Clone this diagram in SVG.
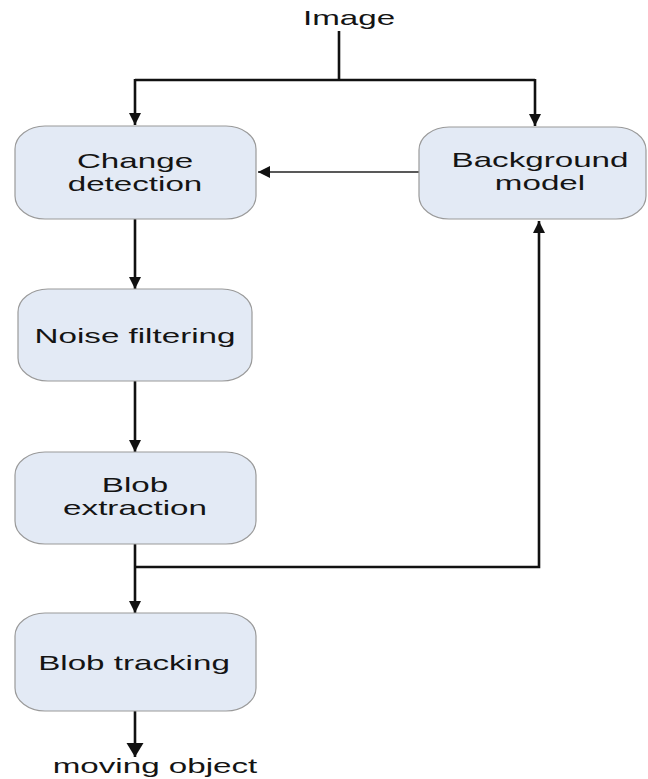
<svg xmlns="http://www.w3.org/2000/svg" width="648" height="779" viewBox="0 0 648 779">
<style>
.box{fill:#e3eaf5;stroke:#9a9a9a;stroke-width:1.2}
.lbl{font-family:"Liberation Sans",Arial,sans-serif;font-size:21px;fill:#141414;text-anchor:middle}
.ln{fill:none;stroke:#111;stroke-width:2.6}
.thin{fill:none;stroke:#222;stroke-width:1.6}
</style>
<defs>
<marker id="ah" markerUnits="userSpaceOnUse" markerWidth="14" markerHeight="12" refX="12" refY="6" orient="auto">
<path d="M0,0 L12,6 L0,12 Z" fill="#111"/>
</marker>
<marker id="ahL" markerUnits="userSpaceOnUse" markerWidth="15" markerHeight="18" refX="14" refY="8.5" orient="auto">
<path d="M0,0 L14,8.5 L0,17 Z" fill="#111"/>
</marker>
</defs>
<rect width="648" height="779" fill="#fff"/>
<g id="connectors">
<path class="ln" d="M339,31 V80"/>
<path class="ln" d="M135,80 H535"/>
<path class="ln" d="M135,79 V125" marker-end="url(#ah)"/>
<path class="ln" d="M535,79 V126" marker-end="url(#ah)"/>
<path class="thin" d="M419,172 H258" marker-end="url(#ah)"/>
<path class="ln" d="M135,219 V289" marker-end="url(#ah)"/>
<path class="ln" d="M135,381 V452" marker-end="url(#ah)"/>
<path class="ln" d="M135,544 V613" marker-end="url(#ah)"/>
<path class="ln" d="M135,567 H539 V221" marker-end="url(#ah)"/>
<path class="ln" d="M135,711 V757" marker-end="url(#ahL)"/>
</g>
<g id="image-label">
<text class="lbl" transform="translate(349 25) scale(1.58 1)">Image</text>
</g>
<g id="change-detection">
<rect class="box" x="15" y="126" width="241" height="93" rx="30" ry="23"/>
<text class="lbl" transform="translate(135 168) scale(1.58 1)">Change</text>
<text class="lbl" transform="translate(135 191) scale(1.58 1)">detection</text>
</g>
<g id="background-model">
<rect class="box" x="419" y="127" width="227" height="92" rx="30" ry="23"/>
<text class="lbl" transform="translate(540 167) scale(1.58 1)">Background</text>
<text class="lbl" transform="translate(540 190) scale(1.58 1)">model</text>
</g>
<g id="noise-filtering">
<rect class="box" x="18" y="289" width="234" height="92" rx="30" ry="23"/>
<text class="lbl" transform="translate(135 343) scale(1.58 1)">Noise filtering</text>
</g>
<g id="blob-extraction">
<rect class="box" x="15" y="452" width="241" height="92" rx="30" ry="23"/>
<text class="lbl" transform="translate(135 492) scale(1.58 1)">Blob</text>
<text class="lbl" transform="translate(135 515) scale(1.58 1)">extraction</text>
</g>
<g id="blob-tracking">
<rect class="box" x="15" y="613" width="241" height="98" rx="30" ry="23"/>
<text class="lbl" transform="translate(134 670) scale(1.58 1)">Blob tracking</text>
</g>
<g id="moving-object">
<text class="lbl" transform="translate(155 773) scale(1.58 1)">moving object</text>
</g>
</svg>
